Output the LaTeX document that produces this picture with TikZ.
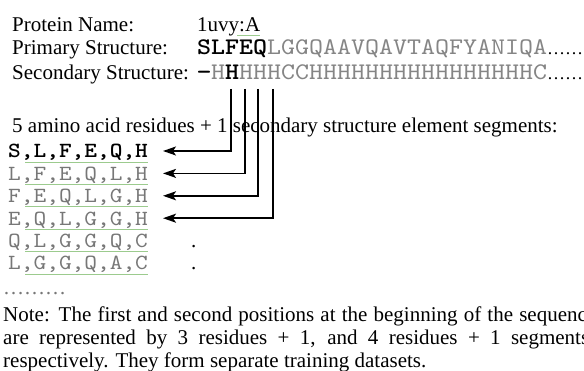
\documentclass[tikz,border=0pt]{standalone}
\usepackage{fontspec}
\setmainfont{Liberation Serif}
\newfontfamily\cour{lmmono10-regular.otf}[BoldFont=lmmonolt10-bold.otf, FakeStretch=1.12]
\usetikzlibrary{arrows.meta,calc}
\definecolor{seqgray}{HTML}{858585}
\definecolor{seggray}{HTML}{777777}
\definecolor{gline}{HTML}{9CCB8E}
\newcommand{\dotsfill}{{\rmfamily\fontsize{18}{20}\selectfont ……}}
\begin{document}
\begin{tikzpicture}[x=1pt,y=1pt,
  lbl/.style={anchor=base west, inner sep=0pt, font=\fontsize{21}{25}\selectfont},
  seq/.style={anchor=base west, inner sep=0pt, font=\fontsize{23.8}{26}\selectfont\cour},
  seg/.style={anchor=base west, inner sep=0pt, font=\fontsize{21.6}{25}\selectfont\cour, text=seggray},
  segb/.style={seg, text=black, font=\fontsize{21.6}{25}\selectfont\cour\bfseries},
  arr/.style={line width=1.6pt, -{Stealth[length=13pt,width=9pt,inset=3pt]}},
  gul/.style={draw=gline, line width=0.9pt}]
\useasboundingbox (0,0) rectangle (584,-371);
\clip (0,0) rectangle (584,-371);
% header rows
\node[lbl] (pn) at (12,-32) {Protein Name:};
\node[lbl] (pid) at (197,-32) {1uvy:A};
\node[lbl] (ps) at (12,-55) {Primary Structure:};
\node[seq] (pseq) at (197,-55) {\textbf{SLFEQ}\textcolor{seqgray}{LGGQAAVQAVTAQFYANIQA}\dotsfill};
\node[lbl] (ss) at (12,-80) {Secondary Structure:};
\node[seq] (sseq) at (197,-80) {\textbf{−}\textcolor{seqgray}{H}\textbf{H}\textcolor{seqgray}{HHHCCHHHHHHHHHHHHHHHHC}\dotsfill};
\draw[gul] ($(pid.base east)+(-23,-3)$) -- ($(pid.base east)+(0,-3)$);
% heading of segments
\node[lbl] (hdr) at (12,-133) {5 amino acid residues + 1 secondary structure element segments:};
% segment rows
\node[segb] (r1) at (8,-158) {S,L,F,E,Q,H};
\node[seg] (r2) at (8,-180.4) {L,F,E,Q,L,H};
\node[seg] (r3) at (8,-202.8) {F,E,Q,L,G,H};
\node[seg] (r4) at (8,-225.2) {E,Q,L,G,G,H};
\node[seg] (r5) at (8,-247.6) {Q,L,G,G,Q,C};
\node[seg] (r6) at (8,-270) {L,G,G,Q,A,C};
\foreach \r in {r1,r2,r3,r4,r5,r6}{
  \draw[gul] ($(\r.base west)+(17,-4)$) -- ($(\r.base east)+(0,-4)$);
}
\node[lbl] (d5) at (191,-247.6) {.};
\node[lbl] (d6) at (191,-270) {.};
\node[lbl, text=seggray] (more) at (3,-295) {………};
% connectors
\coordinate (v1) at (231,-89);
\coordinate (v2) at (245,-89);
\coordinate (v3) at (258,-89);
\coordinate (v4) at (273,-89);
\coordinate (t1) at (163,-151);
\coordinate (t2) at (163,-173.4);
\coordinate (t3) at (163,-195.8);
\coordinate (t4) at (163,-218.2);
\draw[arr] (v1) |- (t1);
\draw[arr] (v2) |- (t2);
\draw[arr] (v3) |- (t3);
\draw[arr] (v4) |- (t4);
% note
\node[lbl] (n1) at (3,-322) {\makebox[593pt][s]{Note: The first and second positions at the beginning of the sequence}};
\node[lbl] (n2) at (3,-345) {\makebox[586pt][s]{are represented by 3 residues + 1, and 4 residues + 1 segments}};
\node[lbl] (n3) at (3,-368) {respectively. They form separate training datasets.};
\end{tikzpicture}
\end{document}
